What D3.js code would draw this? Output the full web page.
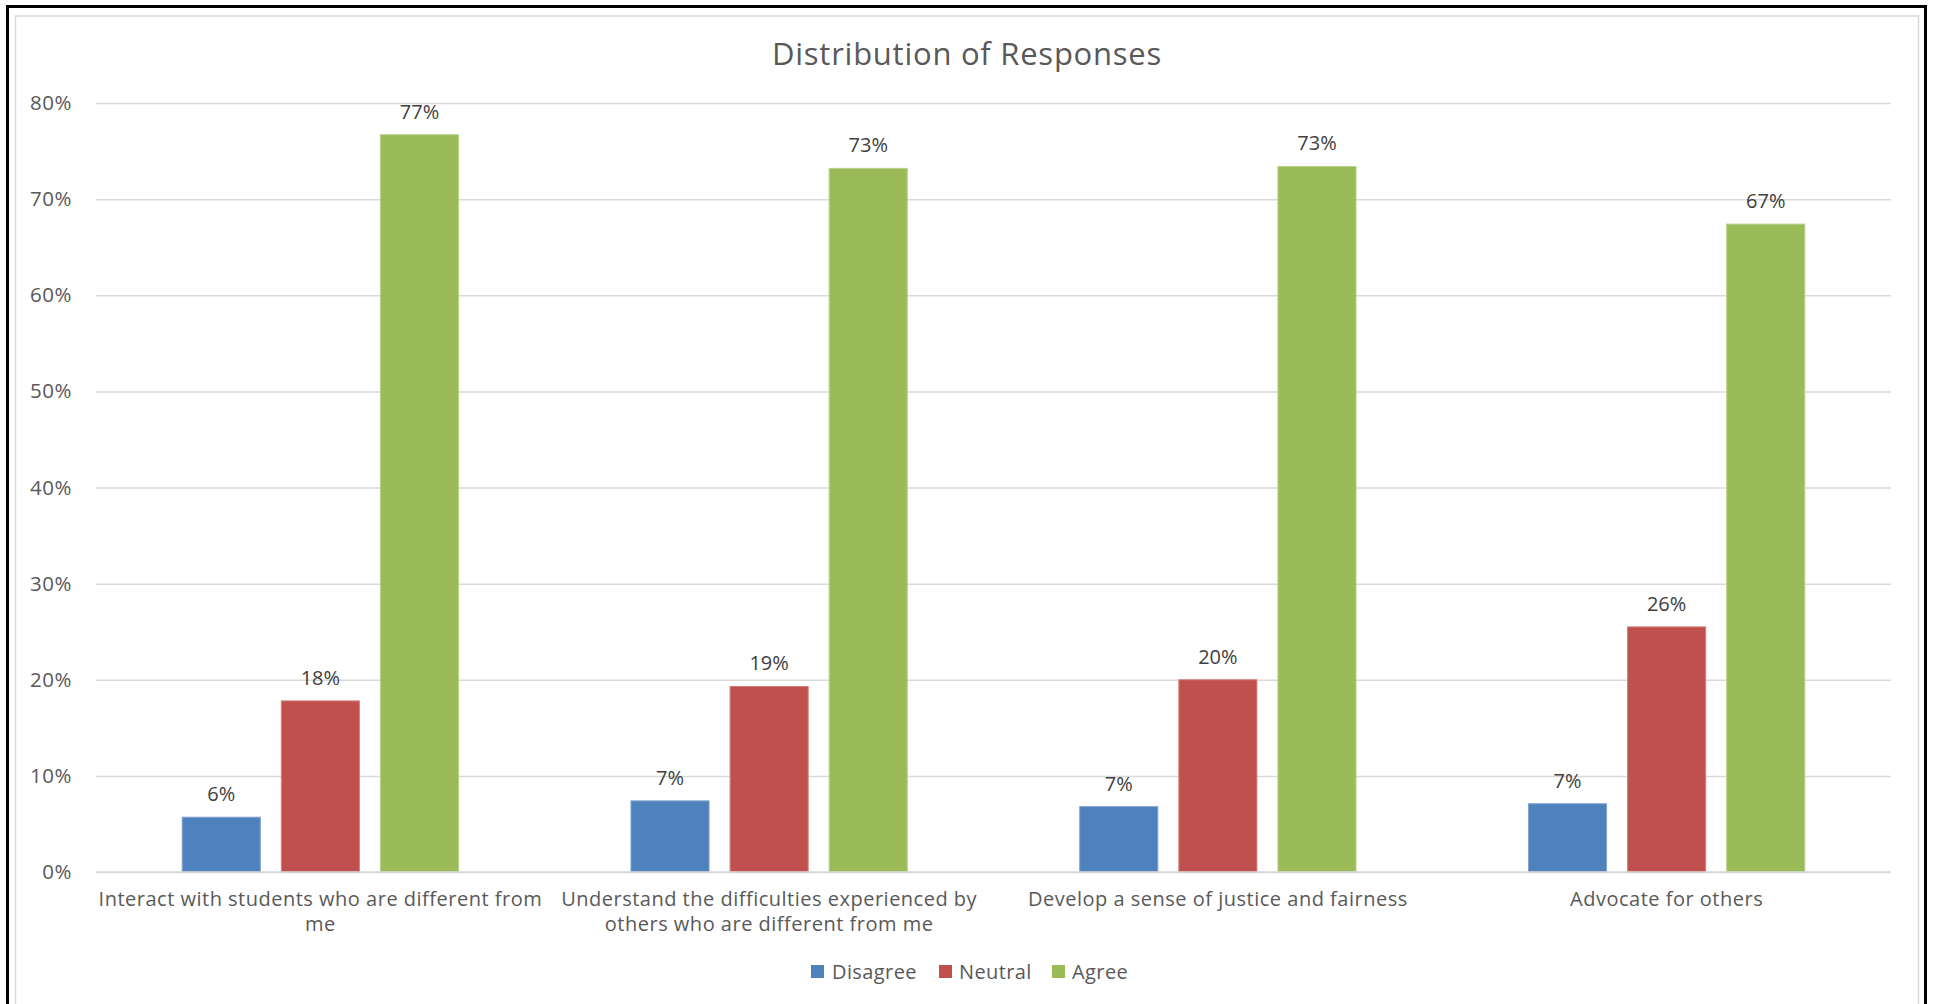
<!DOCTYPE html>
<html>
<head>
<meta charset="utf-8">
<script src="https://cdn.jsdelivr.net/npm/d3@7"></script>
<style>
  html, body { margin: 0; padding: 0; background: #fff; }
  svg { display: block; }
  text { font-family: "Open Sans", "Liberation Sans", sans-serif; }
</style>
</head>
<body>
<svg id="chart" width="1933" height="1004"></svg>
<script>
// ---- data ----
const title = "Distribution of Responses";
const categories = [
  "Interact with students who are different from me",
  "Understand the difficulties experienced by others who are different from me",
  "Develop a sense of justice and fairness",
  "Advocate for others"
];
const categoryLines = [
  ["Interact with students who are different from", "me"],
  ["Understand the difficulties experienced by", "others who are different from me"],
  ["Develop a sense of justice and fairness"],
  ["Advocate for others"]
];
const seriesNames = ["Disagree", "Neutral", "Agree"];
const disagree = [0.057, 0.074, 0.068, 0.071];
const neutral  = [0.178, 0.193, 0.200, 0.255];
const agree    = [0.767, 0.732, 0.734, 0.674];
const dataLabels = [
  ["6%", "18%", "77%"],
  ["7%", "19%", "73%"],
  ["7%", "20%", "73%"],
  ["7%", "26%", "67%"]
];
const yTicks = [0, 0.1, 0.2, 0.3, 0.4, 0.5, 0.6, 0.7, 0.8];
const colors = ["#4F81BD", "#C0504D", "#9BBB59"];
const strokeColors = ["#7FA3D3", "#D67F7D", "#B7D08A"];

// ---- layout ----
const svg = d3.select("#chart");

// frames
svg.append("rect").attr("x", 7.5).attr("y", 6.5).attr("width", 1918).attr("height", 1010)
  .attr("fill", "none").attr("stroke", "#000").attr("stroke-width", 3);
svg.append("rect").attr("x", 15.5).attr("y", 16).attr("width", 1903).attr("height", 1000)
  .attr("fill", "none").attr("stroke", "#D9D9D9").attr("stroke-width", 1.5);

const plotLeft = 96, plotRight = 1891, plotTop = 103, plotBottom = 872;

const x = d3.scaleBand().domain(categories).range([plotLeft, plotRight]).paddingInner(0).paddingOuter(0);
const xs = d3.scaleBand().domain(seriesNames).range([0, x.bandwidth()])
  .paddingInner(0.212).paddingOuter(0.87);
const y = d3.scaleLinear().domain([0, 0.8]).range([plotBottom, plotTop]);

// title
svg.append("text").attr("x", 967).attr("y", 65).attr("text-anchor", "middle")
  .attr("font-size", 31).attr("letter-spacing", 0.75).attr("fill", "#595959").text(title);

// gridlines + y axis labels via d3 axis
const yAxis = d3.axisLeft(y).tickValues(yTicks).tickFormat(d3.format(".0%"))
  .tickSize(-(plotRight - plotLeft)).tickPadding(24);
const gy = svg.append("g").attr("transform", `translate(${plotLeft},0)`).call(yAxis);
gy.select(".domain").remove();
gy.selectAll(".tick line").attr("stroke", "#D9D9D9").attr("stroke-width", 1.5);
gy.selectAll(".tick text").attr("fill", "#595959").attr("font-size", 20.5)
  .attr("letter-spacing", 0.5)
  .attr("font-family", "'Open Sans', sans-serif");

// bars
const series = [disagree, neutral, agree];
const groups = svg.append("g").selectAll("g").data(categories).join("g")
  .attr("transform", d => `translate(${x(d)},0)`);

groups.each(function(cat, ci) {
  const g = d3.select(this);
  seriesNames.forEach((s, si) => {
    const v = series[si][ci];
    g.append("rect")
      .attr("x", xs(s)).attr("y", y(v))
      .attr("width", xs.bandwidth()).attr("height", y(0) - y(v))
      .attr("fill", colors[si]).attr("stroke", strokeColors[si]).attr("stroke-width", 1);
    g.append("text")
      .attr("x", xs(s) + xs.bandwidth() / 2).attr("y", y(v) - 16)
      .attr("text-anchor", "middle").attr("font-size", 20).attr("fill", "#404040")
      .text(dataLabels[ci][si]);
  });
});

// x axis baseline
svg.append("line").attr("x1", plotLeft).attr("x2", plotRight)
  .attr("y1", plotBottom).attr("y2", plotBottom)
  .attr("stroke", "#D9D9D9").attr("stroke-width", 1.5);

// category labels
const xAxis = d3.axisBottom(x).tickSize(0).tickFormat("");
const gx = svg.append("g").attr("transform", `translate(0,${plotBottom})`).call(xAxis);
gx.select(".domain").remove();
gx.selectAll(".tick").each(function(cat, i) {
  const t = d3.select(this).append("text")
    .attr("text-anchor", "middle").attr("fill", "#595959").attr("font-size", 20)
    .attr("letter-spacing", 0.5)
    .attr("font-family", "'Open Sans', sans-serif");
  categoryLines[i].forEach((ln, li) => {
    t.append("tspan").attr("x", 0).attr("y", 34 + li * 24.5).text(ln);
  });
});

// legend
const legendItems = [
  { name: seriesNames[0], color: colors[0], sx: 811, tx: 832 },
  { name: seriesNames[1], color: colors[1], sx: 939, tx: 959 },
  { name: seriesNames[2], color: colors[2], sx: 1052, tx: 1072 }
];
const lg = svg.append("g");
legendItems.forEach(it => {
  lg.append("rect").attr("x", it.sx).attr("y", 965).attr("width", 13).attr("height", 13).attr("fill", it.color);
  lg.append("text").attr("x", it.tx).attr("y", 978.5).attr("font-size", 20).attr("letter-spacing", 0.4)
    .attr("fill", "#595959").text(it.name);
});
</script>
</body>
</html>
